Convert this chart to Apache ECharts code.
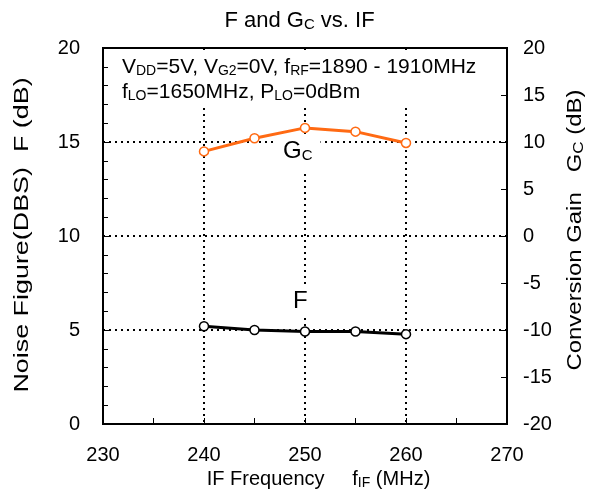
<!DOCTYPE html>
<html>
<head>
<meta charset="utf-8">
<title>F and Gc vs. IF</title>
<script src="https://cdn.jsdelivr.net/npm/echarts@6/dist/echarts.min.js"></script>
<style>
  html, body { margin: 0; padding: 0; background: #fff; }
  #main { width: 599px; height: 499px; }
</style>
</head>
<body>
<div id="main"></div>
<script>
// IF frequency (MHz)
var ifFreq = [240, 245, 250, 255, 260];
// noise figure F (dB), left axis
var noiseF = [5.2, 5.0, 4.92, 4.92, 4.78];
// conversion gain Gc (dB), right axis
var gainC = [9.0, 10.4, 11.5, 11.1, 9.9];

var FONT = 'Liberation Sans';
var dotted = { color: '#000', width: 2, type: [2, 4] };

// subscript style for rich text
function subStyle(size, pad) {
    return { fontSize: size, fontFamily: FONT, color: '#000', fill: '#000', padding: [pad, 0, 0, 0] };
}

function pairs(xs, ys) {
    var out = [];
    for (var i = 0; i < xs.length; i++) out.push([xs[i], ys[i]]);
    return out;
}

var chart = echarts.init(document.getElementById('main'));
var option = {
    animation: false,
    textStyle: { fontFamily: FONT },
    title: {
        text: 'F and G{s|C} vs. IF',
        left: 'center',
        top: 5,
        textStyle: {
            fontFamily: FONT, fontSize: 22, fontWeight: 'normal', color: '#000',
            rich: { s: subStyle(15, 7) }
        }
    },
    grid: {
        left: 103, right: 92, top: 48, bottom: 75,
        outerBoundsMode: 'none', containLabel: false,
        show: true, borderColor: '#000', borderWidth: 2
    },
    xAxis: {
        type: 'value', min: 230, max: 270, interval: 10,
        name: 'IF Frequency     f{s|IF} (MHz)',
        nameLocation: 'middle', nameGap: 44,
        nameTextStyle: {
            fontSize: 20, color: '#000', padding: [0, 0, 0, 27],
            rich: { s: subStyle(14, 7) }
        },
        axisLine: { lineStyle: { color: '#000', width: 2 } },
        axisTick: { inside: true, length: 6, lineStyle: { color: '#000' } },
        minorTick: { show: true, splitNumber: 2, length: 6, lineStyle: { color: '#000' } },
        axisLabel: { fontSize: 20, color: '#000', margin: 21 },
        splitLine: { show: true, lineStyle: dotted }
    },
    yAxis: [{
        type: 'value', min: 0, max: 20, interval: 5,
        axisLine: { show: true, lineStyle: { color: '#000', width: 2 } },
        axisTick: { inside: true, length: 6, lineStyle: { color: '#000' } },
        minorTick: { show: true, splitNumber: 5, length: 5, lineStyle: { color: '#000' } },
        axisLabel: { fontSize: 20, color: '#000', margin: 23 },
        splitLine: { show: true, lineStyle: dotted }
    }, {
        type: 'value', min: -20, max: 20, interval: 5,
        axisLine: { show: true, lineStyle: { color: '#000', width: 2 } },
        axisTick: { inside: true, length: 6, lineStyle: { color: '#000' } },
        axisLabel: { fontSize: 20, color: '#000', margin: 16 },
        splitLine: { show: false }
    }],
    graphic: [{
        // left axis title (stretched like the original)
        type: 'text', x: 22, y: 235, rotation: Math.PI / 2, scaleX: 1.28,
        style: {
            text: 'Noise Figure(DBS)  F (dB)',
            font: '21px "Liberation Sans"', fill: '#000',
            align: 'center', verticalAlign: 'middle'
        }
    }, {
        // right axis title
        type: 'text', x: 575, y: 230, rotation: Math.PI / 2, scaleX: 1.14,
        style: {
            text: 'Conversion Gain   G{s|C} (dB)',
            font: '21px "Liberation Sans"', fill: '#000',
            align: 'center', verticalAlign: 'middle',
            rich: { s: subStyle(15, 7) }
        }
    }, {
        // white box behind the conditions text hides the grid lines there
        type: 'rect', z: 10, shape: { x: 111, y: 52, width: 389, height: 52 },
        style: { fill: '#fff' }
    }, {
        type: 'text', z: 11, left: 122, top: 55,
        style: {
            text: 'V{s|DD}=5V, V{s|G2}=0V, f{s|RF}=1890 - 1910MHz\nf{s|LO}=1650MHz, P{s|LO}=0dBm',
            font: '21px "Liberation Sans"', fill: '#000', lineHeight: 25,
            rich: { s: subStyle(14, 7) }
        }
    }, {
        // series labels, on white so the grid is broken behind them
        type: 'text', z: 11, x: 275, y: 136,
        style: {
            text: 'G{s|C}', font: '24px "Liberation Sans"', fill: '#000',
            backgroundColor: '#fff', padding: [3, 8, 8, 8],
            rich: { s: subStyle(15, 9) }
        }
    }, {
        type: 'text', z: 11, x: 285, y: 286,
        style: {
            text: 'F', font: '24px "Liberation Sans"', fill: '#000',
            backgroundColor: '#fff', padding: [3, 8, 2, 8]
        }
    }],
    series: [{
        name: 'Gc', type: 'line', yAxisIndex: 1,
        data: pairs(ifFreq, gainC),
        symbol: 'circle', symbolSize: 9,
        lineStyle: { color: '#ff6a13', width: 3 },
        itemStyle: { color: '#fff', borderColor: '#ff6a13', borderWidth: 1.5 }
    }, {
        name: 'F', type: 'line', yAxisIndex: 0,
        data: pairs(ifFreq, noiseF),
        symbol: 'circle', symbolSize: 9,
        lineStyle: { color: '#000', width: 3 },
        itemStyle: { color: '#fff', borderColor: '#000', borderWidth: 1.5 }
    }]
};
chart.setOption(option);
</script>
</body>
</html>
